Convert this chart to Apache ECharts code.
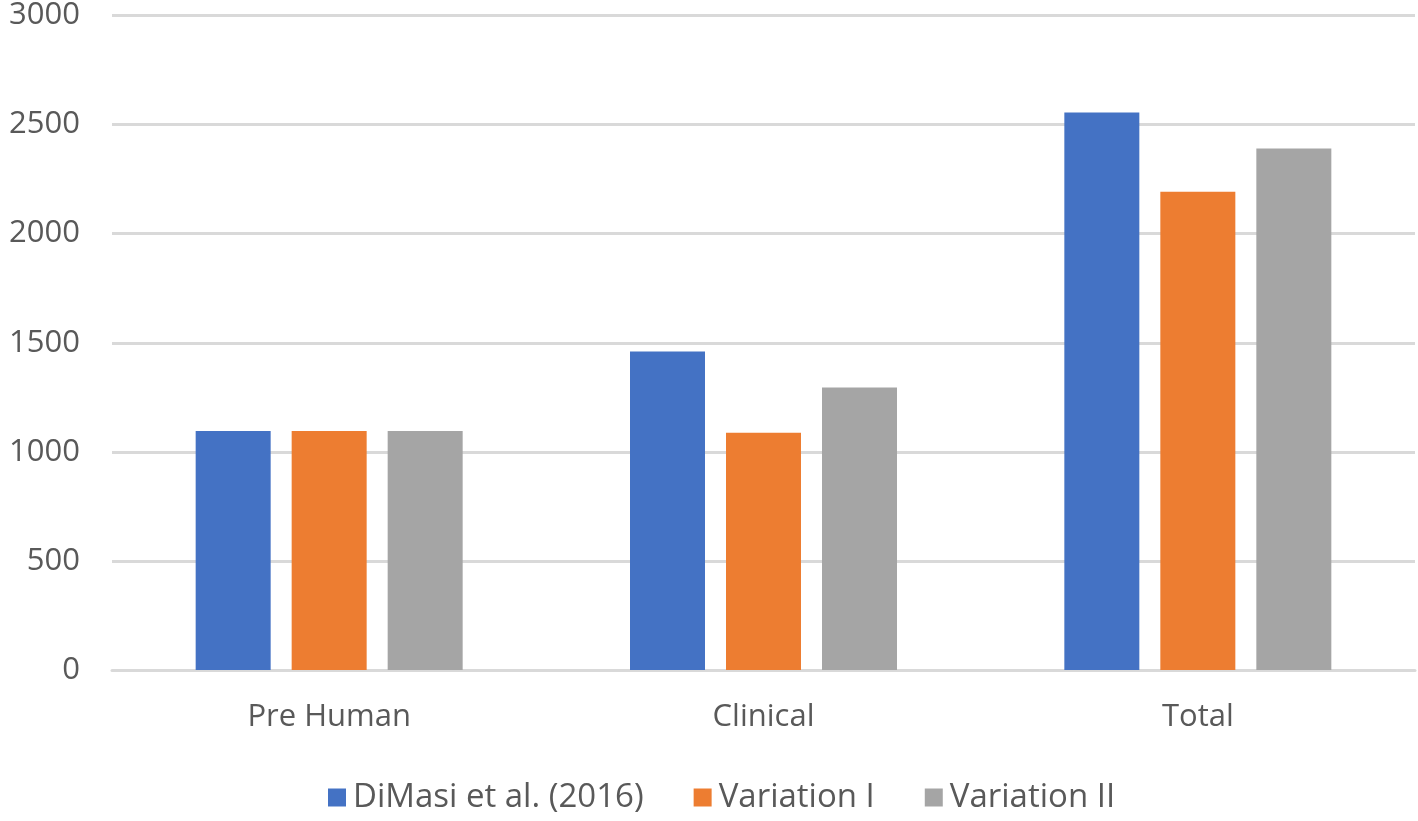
<!DOCTYPE html>
<html>
<head>
<meta charset="utf-8">
<script src="https://cdn.jsdelivr.net/npm/echarts@6/dist/echarts.min.js"></script>
<style>
html,body{margin:0;padding:0;background:#fff;}
#chart{width:1418px;height:821px;}
</style>
</head>
<body>
<div id="chart"></div>
<script>
const categories = ['Pre Human', 'Clinical', 'Total'];
const seriesNames = ['DiMasi et al. (2016)', 'Variation I', 'Variation II'];
const dimasi = [1095, 1460, 2555];
const variation1 = [1095, 1088, 2192];
const variation2 = [1095, 1295, 2390];
const colors = ['#4472C4', '#ED7D31', '#A5A5A5'];

const font = '"Open Sans", "Noto Sans", sans-serif';
const chart = echarts.init(document.getElementById('chart'));
const values = [dimasi, variation1, variation2];
chart.setOption({
  animation: false,
  backgroundColor: '#ffffff',
  grid: { left: 112, right: 3, top: 14, bottom: 151 },
  legend: {
    bottom: 2,
    left: 323,
    itemWidth: 18,
    itemHeight: 18,
    itemGap: 50,
    icon: 'rect',
    textStyle: { color: '#595959', fontSize: 33, fontFamily: font, padding: [0, 0, 0, 2] },
    data: seriesNames
  },
  xAxis: {
    type: 'category',
    data: categories,
    axisLine: { show: true, lineStyle: { color: '#D9D9D9', width: 3 } },
    axisTick: { show: false },
    axisLabel: { color: '#595959', fontSize: 31, fontFamily: font, margin: 32 }
  },
  yAxis: {
    type: 'value',
    min: 0,
    max: 3000,
    interval: 500,
    axisLine: { show: false },
    axisTick: { show: false },
    splitLine: { lineStyle: { color: '#D9D9D9', width: 3 } },
    axisLabel: { color: '#595959', fontSize: 31, fontFamily: font, margin: 32, formatter: v => String(v) }
  },
  series: seriesNames.map((name, i) => ({
    name: name,
    type: 'bar',
    data: values[i],
    barWidth: 75,
    barGap: '28%',
    itemStyle: { color: colors[i] }
  }))
});
</script>
</body>
</html>
